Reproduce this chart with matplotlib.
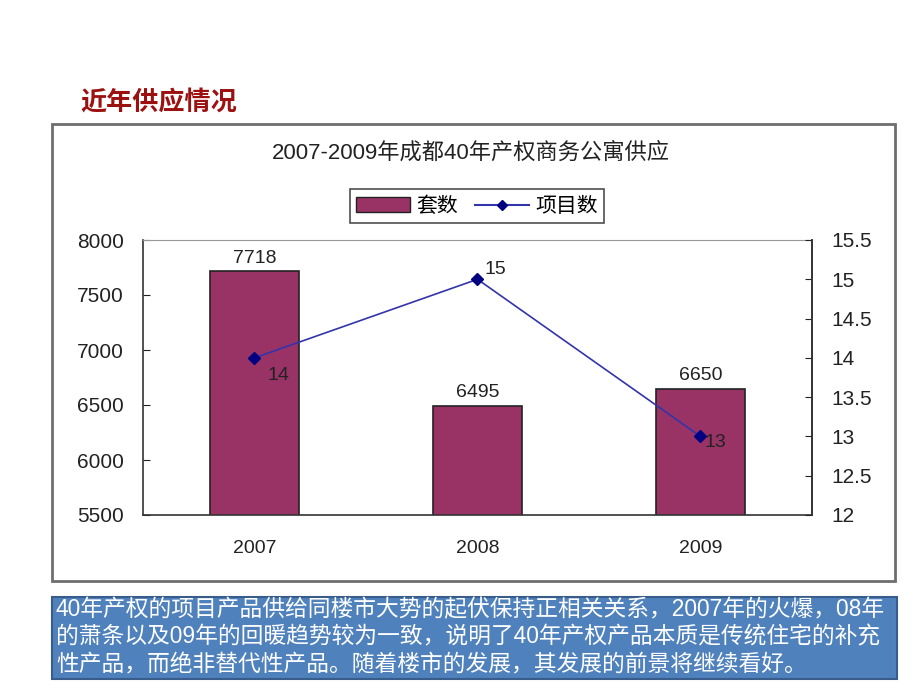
import matplotlib
matplotlib.use("Agg")
import matplotlib.pyplot as plt
from matplotlib.patches import Rectangle
from matplotlib.lines import Line2D
from matplotlib.ticker import FormatStrFormatter, MultipleLocator
from matplotlib import font_manager

names = {f.name for f in font_manager.fontManager.ttflist}
narrow = 'Liberation Sans Narrow' if 'Liberation Sans Narrow' in names else 'Liberation Sans'
plt.rcParams['font.family'] = [narrow, 'Noto Sans CJK SC', 'DejaVu Sans']

years = ['2007', '2008', '2009']
units = [7718, 6495, 6650]        # 套数
projects = [14, 15, 13]           # 项目数
section_title = '近年供应情况'
chart_title = '2007-2009年成都40年产权商务公寓供应'
legend_labels = ['套数', '项目数']
note = ('40年产权的项目产品供给同楼市大势的起伏保持正相关关系，2007年的火爆，08年\n'
        '的萧条以及09年的回暖趋势较为一致，说明了40年产权产品本质是传统住宅的补充\n'
        '性产品，而绝非替代性产品。随着楼市的发展，其发展的前景将继续看好。')

W, H = 920, 690
fig = plt.figure(figsize=(W / 100, H / 100), dpi=100)

def fx(x):
    return x / W

def fy(y):
    return 1 - y / H

cjk = ['Noto Sans CJK SC', 'DejaVu Sans']

# section title
fig.text(fx(80), fy(103), section_title, color='#9c1010', fontsize=18.8, fontweight='bold',
         family=cjk, ha='left', va='center')

# chart frame
fig.patches.append(Rectangle((fx(52), fy(581)), fx(895) - fx(52), fy(124) - fy(581),
                             transform=fig.transFigure, facecolor='white',
                             edgecolor='#6e6e6e', linewidth=2, zorder=-5))

# chart title
fig.text(fx(471), fy(153), chart_title, fontsize=16, family=[narrow] + cjk, color='#222222',
         ha='center', va='center')

ax = fig.add_axes([fx(143), fy(515), fx(812) - fx(143), fy(240) - fy(515)])
ax.set_zorder(2)
ax.patch.set_alpha(0)
x = list(range(len(years)))
bars = ax.bar(x, units, width=0.40, color='#993366', edgecolor='#222222', linewidth=1.2, zorder=2)
ax.set_xlim(-0.5, len(years) - 0.5)
ax.set_ylim(5500, 8000)
ax.yaxis.set_major_locator(MultipleLocator(500))
ax.set_xticks(x)
ax.set_xticklabels(years, fontsize=14, color='#222222')
ax.tick_params(axis='x', length=0, pad=18)
ax.tick_params(axis='y', direction='in', length=5, labelsize=15, pad=14, colors='#222222')
for sp in ax.spines.values():
    sp.set_color('#333333')
    sp.set_linewidth(1.2)
ax.spines['top'].set_color('#999999')
ax.spines['top'].set_linewidth(0.8)

for xi, v in zip(x, units):
    ax.text(xi, v + 40, str(v), ha='center', va='bottom', fontsize=14, color='#222222')

ax2 = ax.twinx()
ax2.set_ylim(12, 15.5)
ax2.yaxis.set_major_locator(MultipleLocator(0.5))
ax2.yaxis.set_major_formatter(FormatStrFormatter('%g'))
ax2.plot(x, projects, color='#3333aa', linewidth=1.2, marker='D', markersize=6,
         markerfacecolor='#000080', markeredgecolor='#000080', zorder=3)
ax2.tick_params(axis='y', direction='in', length=5, labelsize=15, pad=14, colors='#222222')
for sp in ax2.spines.values():
    sp.set_visible(False)
ax2.spines['right'].set_visible(True)
ax2.spines['right'].set_color('#333333')
ax2.spines['right'].set_linewidth(1.2)

offsets = [(0.06, -0.22), (0.03, 0.12), (0.02, -0.08)]
for xi, v, (dx, dy) in zip(x, projects, offsets):
    ax2.text(xi + dx, v + dy, str(v), ha='left', va='center', fontsize=14, color='#222222')

handles = [Rectangle((0, 0), 1, 1, facecolor='#993366', edgecolor='#222222'),
           Line2D([], [], color='#3333aa', marker='D', markersize=5,
                  markerfacecolor='#000080', markeredgecolor='#000080')]
leg = fig.legend(handles, legend_labels, loc='center', bbox_to_anchor=(fx(477), fy(206)),
                 bbox_transform=fig.transFigure, ncol=2, frameon=True, fancybox=False,
                 edgecolor='#222222', prop={'family': cjk, 'size': 15},
                 handlelength=2.6, handletextpad=0.3, columnspacing=0.8,
                 borderpad=0.3)
leg.get_frame().set_linewidth(1.2)

# note box
fig.patches.append(Rectangle((fx(52), fy(679)), fx(897) - fx(52), fy(597) - fy(679),
                             transform=fig.transFigure, facecolor='#4f81bd',
                             edgecolor='#385d8a', linewidth=1.5, zorder=-5))
fig.text(fx(56), fy(637), note, color='white', fontsize=16.4, family=[narrow] + cjk,
         ha='left', va='center', linespacing=1.26)

fig.savefig('out.png', dpi=100)
